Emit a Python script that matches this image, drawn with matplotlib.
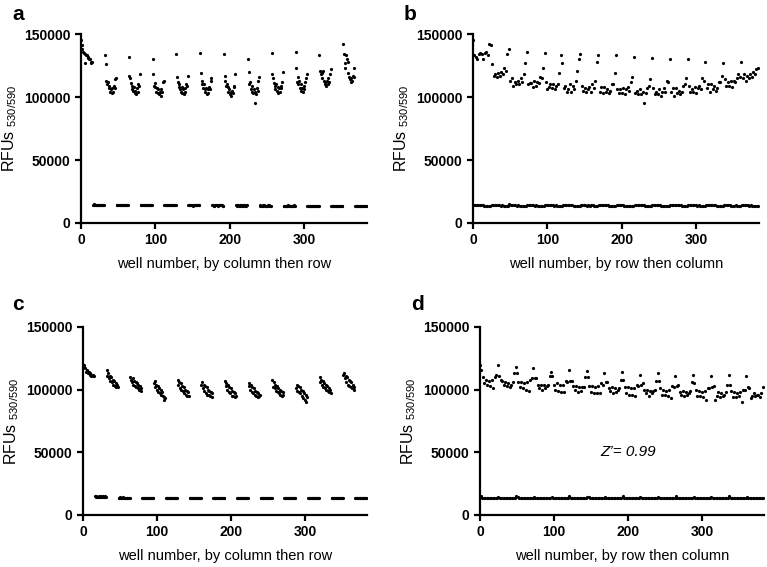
import numpy as np
import matplotlib.pyplot as plt

plt.rcParams['font.family'] = ['Liberation Sans', 'DejaVu Sans']
plt.rcParams['mathtext.default'] = 'regular'

# 384-well plate, 16 rows x 24 columns; even columns = max signal, odd = min signal
# values in thousands of RFU, one list per plate row, one value per even / odd column

high_ab = [
    [145, 133, 132, 130, 134, 135, 134, 130, 135, 136, 133, 142],
    [141, 126, 117, 118, 116, 119, 117, 120, 118, 123, 121, 134],
    [138, 113, 115, 109, 112, 110, 113, 110, 115, 112, 118, 127],
    [136, 110, 111, 111, 108, 113, 109, 112, 111, 116, 115, 123],
    [135, 112, 106, 108, 110, 107, 110, 106, 109, 110, 119, 133],
    [127, 107, 109, 104, 106, 110, 104, 109, 106, 113, 121, 130],
    [134, 109, 105, 107, 104, 106, 108, 104, 110, 107, 113, 128],
    [133, 104, 108, 103, 108, 104, 106, 103, 105, 110, 110, 119],
    [133, 106, 103, 106, 103, 107, 102, 106, 108, 105, 112, 116],
    [132, 103, 105, 102, 106, 102, 104, 95, 103, 107, 109, 114],
    [131, 107, 102, 104, 102, 106, 101, 104, 107, 104, 113, 112],
    [130, 104, 107, 101, 107, 103, 105, 102, 104, 109, 110, 115],
    [130, 109, 104, 106, 104, 108, 103, 107, 109, 106, 115, 113],
    [128, 107, 110, 104, 110, 106, 109, 105, 107, 112, 112, 117],
    [127, 114, 109, 112, 109, 113, 108, 113, 112, 115, 118, 116],
    [128, 115, 118, 113, 117, 115, 118, 116, 120, 118, 122, 123],
]

low_ab = [
    [14.6, 14.4, 14.2, 14.1, 14.1, 13.9, 13.9, 13.8, 13.8, 13.7, 13.7, 13.6],
    [14.3, 14.2, 14.3, 13.9, 14.0, 14.1, 13.8, 13.9, 13.6, 13.8, 13.6, 13.5],
    [14.7, 14.2, 14.0, 14.2, 13.9, 13.8, 14.0, 13.7, 13.8, 13.6, 13.8, 13.6],
    [14.4, 14.4, 14.2, 14.0, 14.2, 13.8, 13.9, 13.8, 13.7, 13.7, 13.5, 13.4],
    [14.5, 14.3, 14.1, 14.1, 14.0, 14.0, 13.7, 13.9, 13.8, 13.6, 13.7, 13.6],
    [14.6, 14.1, 14.3, 13.9, 14.0, 13.9, 13.9, 13.7, 13.7, 13.8, 13.5, 13.5],
    [14.4, 14.3, 14.1, 14.1, 13.8, 14.0, 13.8, 13.9, 13.9, 13.6, 13.6, 13.7],
    [14.6, 14.3, 14.2, 14.0, 14.1, 14.0, 13.9, 13.8, 13.7, 13.7, 13.7, 13.4],
    [14.6, 14.5, 14.0, 14.1, 14.0, 13.8, 13.8, 13.7, 13.8, 13.6, 13.6, 13.5],
    [14.5, 14.2, 14.2, 14.0, 13.9, 13.9, 14.0, 13.7, 13.6, 13.7, 13.5, 13.6],
    [14.3, 14.3, 14.1, 14.2, 14.0, 14.0, 13.8, 13.8, 13.8, 13.5, 13.6, 13.5],
    [14.6, 14.3, 14.2, 14.0, 14.1, 13.9, 13.9, 13.9, 13.7, 13.7, 13.7, 13.6],
    [14.5, 14.4, 14.1, 13.9, 14.0, 13.9, 13.8, 13.9, 13.8, 13.6, 13.6, 13.5],
    [14.5, 14.2, 14.3, 14.1, 13.9, 14.0, 13.9, 13.7, 13.7, 13.7, 13.5, 13.4],
    [14.4, 14.3, 14.1, 14.0, 14.0, 13.8, 13.8, 13.8, 13.9, 13.6, 13.6, 13.5],
    [14.5, 14.3, 14.2, 14.0, 14.0, 13.8, 13.9, 13.8, 13.7, 13.7, 13.6, 13.5],
]

high_cd = [
    [120, 116, 110, 105, 108, 104, 107, 103, 108, 101, 110, 112],
    [120, 111, 108, 107, 104, 106, 103, 105, 102, 104, 106, 113],
    [118, 113, 106, 102, 106, 101, 105, 100, 106, 99, 108, 109],
    [117, 109, 109, 104, 101, 104, 100, 104, 101, 103, 104, 111],
    [114, 111, 104, 100, 105, 99, 104, 98, 104, 98, 107, 106],
    [116, 107, 107, 103, 100, 103, 98, 102, 99, 102, 102, 110],
    [115, 110, 103, 98, 103, 97, 102, 97, 103, 97, 105, 104],
    [113, 106, 106, 101, 99, 102, 97, 101, 98, 100, 101, 108],
    [114, 108, 102, 97, 102, 96, 101, 96, 101, 95, 104, 103],
    [112, 104, 105, 100, 97, 100, 95, 99, 97, 99, 100, 107],
    [113, 107, 101, 96, 100, 96, 99, 95, 100, 93, 103, 102],
    [111, 103, 104, 98, 96, 99, 95, 98, 96, 97, 99, 106],
    [112, 105, 100, 95, 99, 95, 98, 94, 99, 92, 101, 101],
    [111, 102, 103, 92, 95, 98, 94, 97, 95, 96, 98, 104],
    [112, 104, 99, 94, 98, 94, 97, 95, 98, 90, 100, 100],
    [111, 102, 101, 93, 95, 97, 95, 96, 96, 94, 97, 102],
]

low_cd = [
    [14.8, 13.9, 13.8, 13.8, 13.7, 13.7, 13.6, 13.6, 13.5, 13.6, 13.5, 13.3],
    [14.6, 13.7, 13.9, 13.6, 13.8, 13.6, 13.7, 13.5, 13.6, 13.4, 13.4, 13.2],
    [14.8, 14.0, 13.7, 13.8, 13.6, 13.8, 13.5, 13.6, 13.4, 13.5, 13.5, 13.3],
    [14.7, 13.8, 13.8, 13.7, 13.7, 13.6, 13.6, 13.4, 13.5, 13.5, 13.3, 13.3],
    [14.7, 13.9, 13.9, 13.6, 13.6, 13.7, 13.6, 13.5, 13.5, 13.4, 13.4, 13.2],
    [14.9, 13.8, 13.7, 13.8, 13.8, 13.6, 13.5, 13.6, 13.4, 13.5, 13.5, 13.4],
    [14.6, 14.0, 13.8, 13.7, 13.7, 13.6, 13.7, 13.5, 13.5, 13.5, 13.4, 13.3],
    [14.7, 13.8, 13.8, 13.6, 13.6, 13.7, 13.6, 13.4, 13.5, 13.4, 13.3, 13.2],
    [14.8, 13.9, 13.7, 13.8, 13.7, 13.6, 13.5, 13.6, 13.4, 13.5, 13.5, 13.3],
    [14.6, 13.8, 13.9, 13.7, 13.8, 13.6, 13.6, 13.5, 13.5, 13.4, 13.4, 13.3],
    [14.7, 13.9, 13.8, 13.7, 13.6, 13.7, 13.6, 13.5, 13.6, 13.5, 13.4, 13.2],
    [14.8, 13.7, 13.7, 13.8, 13.7, 13.6, 13.5, 13.6, 13.5, 13.4, 13.5, 13.3],
    [14.6, 13.9, 13.8, 13.6, 13.7, 13.7, 13.6, 13.5, 13.4, 13.5, 13.3, 13.3],
    [14.7, 13.8, 13.9, 13.7, 13.6, 13.6, 13.7, 13.4, 13.5, 13.5, 13.4, 13.2],
    [14.9, 13.9, 13.7, 13.8, 13.7, 13.7, 13.5, 13.6, 13.5, 13.4, 13.5, 13.3],
    [14.7, 13.8, 13.8, 13.7, 13.8, 13.6, 13.6, 13.5, 13.4, 13.5, 13.4, 13.3],
]

panel_letters = ['a', 'b', 'c', 'd']
xlabels = ['well number, by column then row', 'well number, by row then column',
           'well number, by column then row', 'well number, by row then column']
yticks = [0, 50000, 100000, 150000]
xticks = [0, 100, 200, 300]
zprime = 'Z\u2019= 0.99'


def plate(high, low):
    # interleave max (even cols) and min (odd cols) into a 16 x 24 plate, in RFU
    p = np.zeros((16, 24))
    p[:, 0::2] = np.array(high) * 1000
    p[:, 1::2] = np.array(low) * 1000
    return p


plate_ab = plate(high_ab, low_ab)
plate_cd = plate(high_cd, low_cd)

# reading orders
by_col = lambda p: p.T.ravel()   # column then row
by_row = lambda p: p.ravel()     # row then column
series = [by_col(plate_ab), by_row(plate_ab), by_col(plate_cd), by_row(plate_cd)]

W, H = 767, 567
fig = plt.figure(figsize=(W / 100, H / 100), dpi=100)
boxes = [(81, 34, 286, 189), (473, 34, 286, 189),
         (83, 327, 284, 188), (480, 327, 284, 188)]
letter_pos = [(18, 15), (410, 15), (18, 305), (417, 305)]

for i in range(4):
    x0, y0, w, h = boxes[i]
    ax = fig.add_axes([x0 / W, 1 - (y0 + h) / H, w / W, h / H])
    y = series[i]
    wells = np.arange(len(y))
    ax.plot(wells, y, 'o', color='black', markersize=2.3, markeredgewidth=0)
    ax.set_xlim(0, 384)
    ax.set_ylim(0, 150000)
    ax.set_xticks(xticks)
    ax.set_yticks(yticks)
    for s in ['top', 'right']:
        ax.spines[s].set_visible(False)
    for s in ['left', 'bottom']:
        ax.spines[s].set_linewidth(1.6)
    ax.tick_params(width=1.6, length=4, labelsize=10)
    for lab in ax.get_xticklabels() + ax.get_yticklabels():
        lab.set_fontweight('bold')
    ax.set_xlabel(xlabels[i], fontsize=10.5, labelpad=7)
    ax.set_ylabel(r'RFUs $_{\mathregular{530/590}}$', fontsize=11.5, labelpad=4)
    lx, ly = letter_pos[i]
    fig.text(lx / W, 1 - ly / H, panel_letters[i], fontsize=15, fontweight='bold',
             ha='center', va='center')
    if i == 3:
        ax.text(200, 50000, zprime, fontsize=11, style='italic', ha='center', va='center')

fig.savefig('out.png', dpi=100)
